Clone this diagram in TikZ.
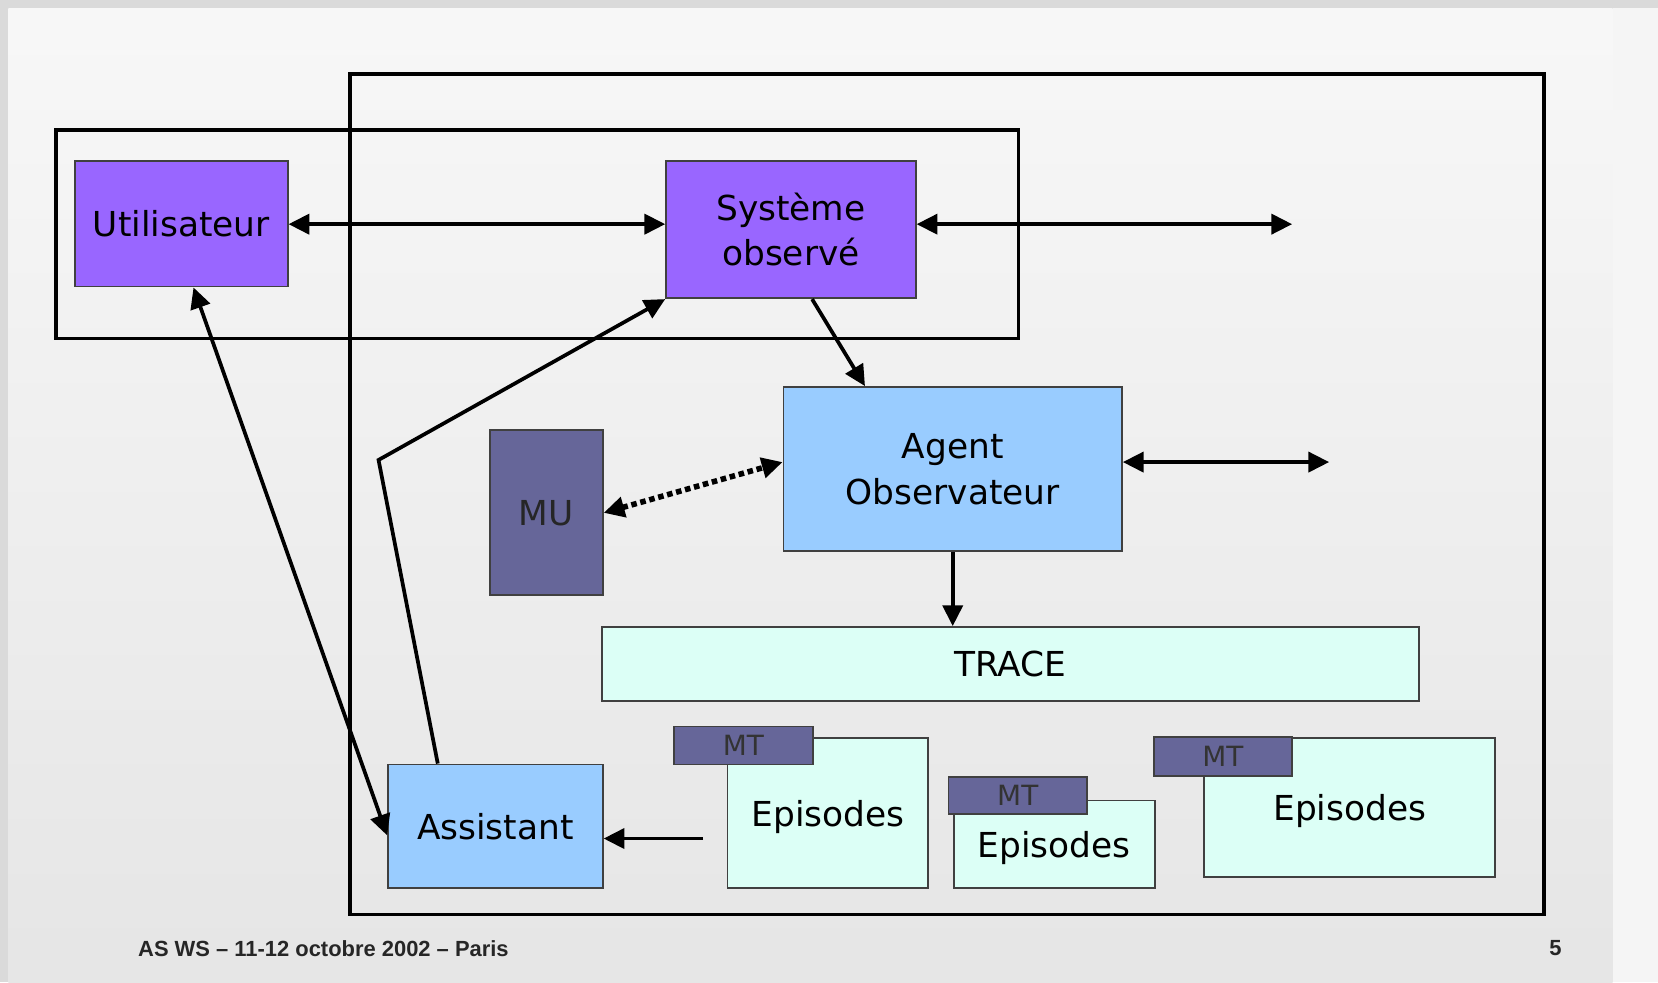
\documentclass[tikz,border=0pt]{standalone}
\usepackage{fontspec}
\setmainfont{DejaVu Sans}
\newfontfamily\footfont{Liberation Sans}
\usetikzlibrary{arrows.meta, positioning, calc}

\definecolor{sysviolet}{HTML}{9966FF}
\definecolor{agentblue}{HTML}{99CCFF}
\definecolor{memslate}{HTML}{666699}
\definecolor{tracemint}{HTML}{DCFFF6}
\definecolor{slidegray}{HTML}{DADADA}

\begin{document}
\begin{tikzpicture}[
    box/.style={draw=black!75, line width=0.5pt, inner sep=0pt, align=center,
                font=\fontsize{9.25}{12.3}\selectfont},
    violetbox/.style={box, fill=sysviolet},
    bluebox/.style={box, fill=agentblue},
    memobox/.style={box, fill=memslate, text=black!85},
    tracebox/.style={box, fill=tracemint},
    epbox/.style={tracebox, text depth=-1.2pt},
    tagbox/.style={box, fill=memslate, text=black!80, font=\fontsize{7.5}{9}\selectfont},
    frame/.style={draw=black, line width=0.9pt},
    arr/.style={-{Triangle[length=5.6pt, width=5.4pt]}, line width=1pt},
    darr/.style={{Triangle[length=5.6pt, width=5.4pt]}-{Triangle[length=5.6pt, width=5.4pt]}, line width=1pt},
    dotarr/.style={darr, dash pattern=on 1.5pt off 1pt, line width=1.5pt},
    foot/.style={font=\footfont\bfseries\fontsize{5.9}{7}\selectfont, text=black!85, inner sep=0pt}
  ]
  % slide background
  \fill[slidegray] (0,0) rectangle (15.68,9.29);
  \shade[top color=black!3, bottom color=black!10] (0.08,0) rectangle (15.25,9.21);
  \fill[black!4] (15.25,0) rectangle (15.68,9.21);
  \useasboundingbox (0,0) rectangle (15.68,9.29);

  % frames
  \draw[frame] (3.31,8.59) rectangle (14.60,0.64);
  \draw[frame] (0.53,8.06) rectangle (9.63,6.09);

  % boxes
  \node[violetbox, minimum width=2.01cm, minimum height=1.19cm] (user) at (1.715,7.175) {Utilisateur};
  \node[violetbox, minimum width=2.36cm, minimum height=1.30cm] (sys) at (7.48,7.12) {Système\\observé};
  \node[bluebox, minimum width=3.20cm, minimum height=1.55cm] (agent) at (9.01,4.855) {Agent\\Observateur};
  \node[memobox, minimum width=1.07cm, minimum height=1.56cm] (mu) at (5.165,4.44) {MU};
  \node[tracebox, minimum width=7.73cm, minimum height=0.70cm] (trace) at (9.555,3.01) {TRACE};
  \node[bluebox, minimum width=2.03cm, minimum height=1.17cm] (asst) at (4.685,1.475) {Assistant};

  \node[epbox, minimum width=1.90cm, minimum height=1.42cm] (ep1) at (7.83,1.60) {Episodes};
  \node[epbox, minimum width=1.90cm, minimum height=0.83cm] (ep2) at (9.97,1.305) {Episodes};
  \node[epbox, minimum width=2.75cm, minimum height=1.31cm] (ep3) at (12.765,1.655) {Episodes};
  \node[tagbox, minimum width=1.32cm, minimum height=0.36cm] (mt1) at (7.03,2.24) {MT};
  \node[tagbox, minimum width=1.31cm, minimum height=0.35cm] (mt2) at (9.625,1.765) {MT};
  \node[tagbox, minimum width=1.31cm, minimum height=0.37cm] (mt3) at (11.565,2.135) {MT};

  % loose ends
  \coordinate (sysout) at (12.22,7.17);
  \coordinate (agentout) at (12.57,4.92);
  \coordinate (epout) at (6.65,1.36);
  \coordinate (bend) at (3.58,4.94);

  % links
  \draw[darr] (sysout -| user.east) -- (sysout -| sys.west);
  \draw[darr] (sysout -| sys.east) -- (sysout);
  \draw[arr] ([xshift=0.2cm]sys.south) -- ([xshift=-0.83cm]agent.north);
  \draw[darr] (agentout -| agent.east) -- (agentout);
  \draw[dotarr] (mu.east) -- (agentout -| agent.west);
  \draw[arr] (agent.south) -- (agent.south |- trace.north);
  \draw[arr] (epout) -- (epout -| asst.east);
  \draw[darr] ([xshift=0.115cm]user.south) -- ([yshift=-0.085cm]asst.west);
  \draw[arr] ([xshift=-0.545cm]asst.north) -- (bend) -- (sys.south west);

  % footer
  \node[foot, anchor=west] (place) at (1.30,0.32) {AS WS – 11-12 octobre 2002 – Paris};
  \node[foot] (pageno) at (14.71,0.32) {5};
\end{tikzpicture}
\end{document}
